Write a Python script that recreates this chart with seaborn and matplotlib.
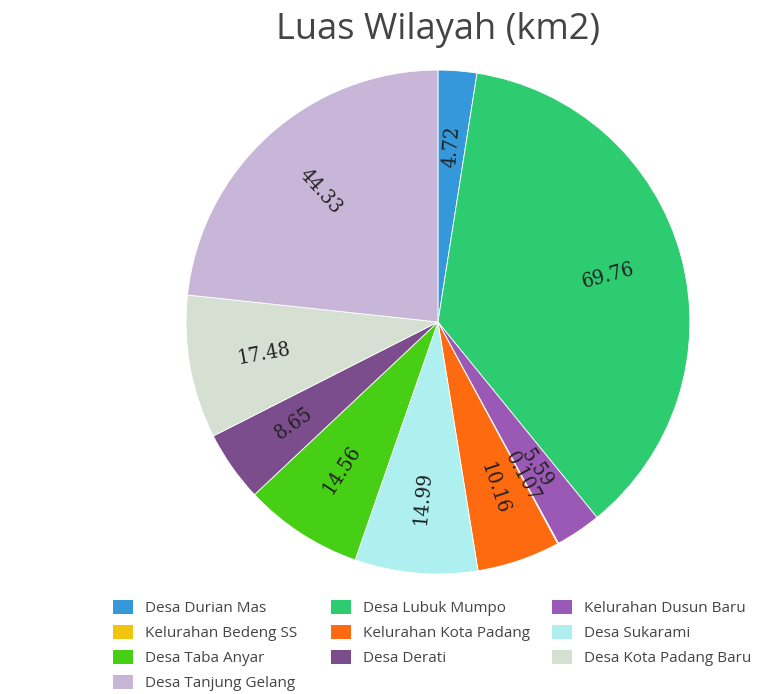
import numpy as np
import seaborn as sns
import matplotlib.pyplot as plt
from matplotlib.patches import Patch

# ------------------------------------------------------------
# Data
# ------------------------------------------------------------
desa = [
    "Desa Durian Mas", "Desa Lubuk Mumpo", "Kelurahan Dusun Baru",
    "Kelurahan Bedeng SS", "Kelurahan Kota Padang", "Desa Sukarami",
    "Desa Taba Anyar", "Desa Derati", "Desa Kota Padang Baru",
    "Desa Tanjung Gelang",
]
luas = [4.72, 69.76, 5.59, 0.107, 10.16, 14.99, 14.56, 8.65, 17.48, 44.33]
label_text = ["4.72", "69.76", "5.59", "0.107", "10.16", "14.99",
              "14.56", "8.65", "17.48", "44.33"]

colors = ["#3498db", "#2ecc71", "#9b59b6", "#f1c40f", "#fd6a10",
          "#aeeff0", "#46cf14", "#7b4d8c", "#d5dfd2", "#c8b6d8"]

# ------------------------------------------------------------
# Plot
# ------------------------------------------------------------
sns.set_theme(style="white")
plt.rcParams["font.family"] = ["Open Sans", "DejaVu Sans"]

fig = plt.figure(figsize=(7.65, 6.94), dpi=100)
ax = fig.add_axes([0.243, 0.173, 0.659, 0.726])

wedges, _ = ax.pie(
    luas,
    colors=colors,
    startangle=90,
    counterclock=False,
    wedgeprops=dict(edgecolor="white", linewidth=0.6),
)
ax.set_xlim(-1, 1)
ax.set_ylim(-1, 1)
ax.set_aspect("equal")

# radial labels inside each slice
for w, txt in zip(wedges, label_text):
    ang = (w.theta1 + w.theta2) / 2.0
    r = 0.7
    x = r * np.cos(np.deg2rad(ang))
    y = r * np.sin(np.deg2rad(ang))
    rot = ang % 360
    if 90 < rot < 270:
        rot -= 180
    ax.text(x, y, txt, ha="center", va="center", rotation=rot,
            rotation_mode="anchor", fontsize=15, color="#222222",
            family="DejaVu Serif", fontstretch="condensed")

fig.text(0.572, 0.957, "Luas Wilayah (km2)", ha="center", va="center",
         fontsize=26, color="#444444")

# legend laid out row by row, three columns
col_x = [0.148, 0.433, 0.722]
for c in range(3):
    idx = list(range(c, len(desa), 3))
    handles = [Patch(facecolor=colors[i], edgecolor="none") for i in idx]
    fig.legend(
        handles, [desa[i] for i in idx],
        loc="upper left", bbox_to_anchor=(col_x[c], 0.136),
        frameon=False, fontsize=11, labelcolor="#444444",
        handlelength=1.3, handleheight=1.05, handletextpad=0.75,
        labelspacing=0.58, borderpad=0, borderaxespad=0,
    )

plt.savefig("out.png", dpi=100)
